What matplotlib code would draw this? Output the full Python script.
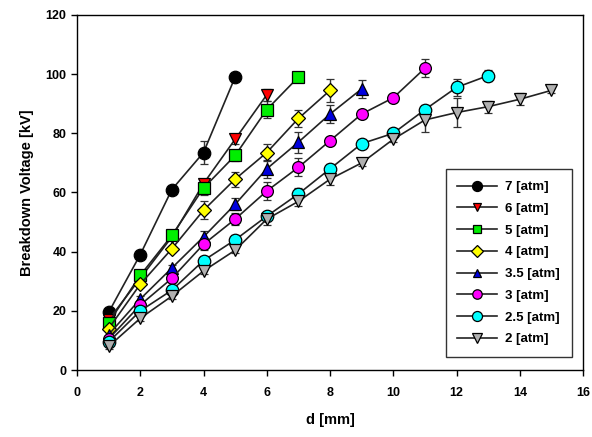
import matplotlib
matplotlib.use("Agg")
import matplotlib.pyplot as plt
from matplotlib.lines import Line2D

plt.rcParams['font.family'] = ['Liberation Sans', 'DejaVu Sans']
plt.rcParams['font.weight'] = 'bold'

labels = ["7 [atm]", "6 [atm]", "5 [atm]", "4 [atm]", "3.5 [atm]", "3 [atm]", "2.5 [atm]", "2 [atm]"]

v7 = [19.5, 39, 61, 73.5, 99]
v6 = [17, 31, 45, 63, 78, 93]
v5 = [16, 32, 45.5, 61.5, 72.5, 88, 99]
v4 = [14, 29, 41, 54, 64.5, 73.5, 85, 94.5]
v35 = [12, 24, 34.5, 45, 56, 68, 77, 86.5, 95]
v3 = [10.5, 22, 31, 42.5, 51, 60.5, 68.5, 77.5, 86.5, 92, 102]
v25 = [9.5, 20, 27, 37, 44, 52, 59.5, 68, 76.5, 80, 88, 95.5, 99.5]
v2 = [8, 17.5, 25, 33.5, 40.5, 51, 57, 64.5, 70, 78, 84.5, 87, 89, 91.5, 94.5]

e7 = [1, 1, 1, 4, 1]
e6 = [1, 1, 1, 1, 1.5, 2]
e5 = [1, 1, 1, 2.5, 2, 3, 1.5]
e4 = [1, 1, 1, 3, 2.5, 3, 3, 4]
e35 = [1, 1, 1, 2, 2, 3, 3.5, 3, 3]
e3 = [1, 1, 1, 2, 2, 3, 3, 1, 1, 1, 3]
e25 = [1, 1, 1, 1, 1.5, 1, 2, 1.5, 1, 1, 1.5, 3, 2]
e2 = [1, 1, 1, 1, 1, 2, 1.5, 2, 1, 1, 4, 5, 2, 2, 1]

series = [v7, v6, v5, v4, v35, v3, v25, v2]
errs = [e7, e6, e5, e4, e35, e3, e25, e2]
markers = ['o', 'v', 's', 'D', '^', 'o', 'o', 'v']
colors = ['black', 'red', '#00ee00', 'yellow', '#0000dd', '#ff00ff', 'cyan', '#b0b0b0']
sizes = [9, 8, 8, 7.5, 8, 8.5, 9, 8.5]

fig = plt.figure(figsize=(5.92, 4.37), dpi=100)
ax = fig.add_axes([0.130, 0.153, 0.855, 0.813])

handles = []
for vals, err, m, c, ms, lab in zip(series, errs, markers, colors, sizes, labels):
    x = list(range(1, len(vals) + 1))
    ax.errorbar(x, vals, yerr=err, color='#222222', lw=1.2, marker=m, ms=ms,
                mfc=c, mec='black', mew=0.9, ecolor='#333333', elinewidth=1,
                capsize=3, capthick=1)
    handles.append(Line2D([], [], color='#222222', lw=1.2, marker=m, ms=ms * 0.8,
                          mfc=c, mec='black', mew=0.9, label=lab))

ax.set_xlim(0, 16)
ax.set_ylim(0, 120)
ax.set_xticks(range(0, 17, 2))
ax.set_yticks(range(0, 121, 20))
ax.tick_params(direction='out', length=4, labelsize=9, width=1)
for lab in ax.get_xticklabels() + ax.get_yticklabels():
    lab.set_fontweight('bold')
ax.tick_params(axis='x', pad=8)
for s in ax.spines.values():
    s.set_linewidth(1)
ax.set_xlabel("d [mm]", fontsize=10.5, fontweight='bold', labelpad=10)
ax.set_ylabel("Breakdown Voltage [kV]", fontsize=10.5, fontweight='bold', labelpad=8)

leg = ax.legend(handles=handles, loc='lower right', bbox_to_anchor=(0.985, 0.025), fontsize=9.5,
                frameon=True, fancybox=False, edgecolor='black', handlelength=3,
                labelspacing=0.72, borderpad=0.9, borderaxespad=0.3,
                handletextpad=0.6)
leg.get_frame().set_linewidth(1)
for t in leg.get_texts():
    t.set_fontweight('bold')

fig.savefig("out.png", dpi=100)
